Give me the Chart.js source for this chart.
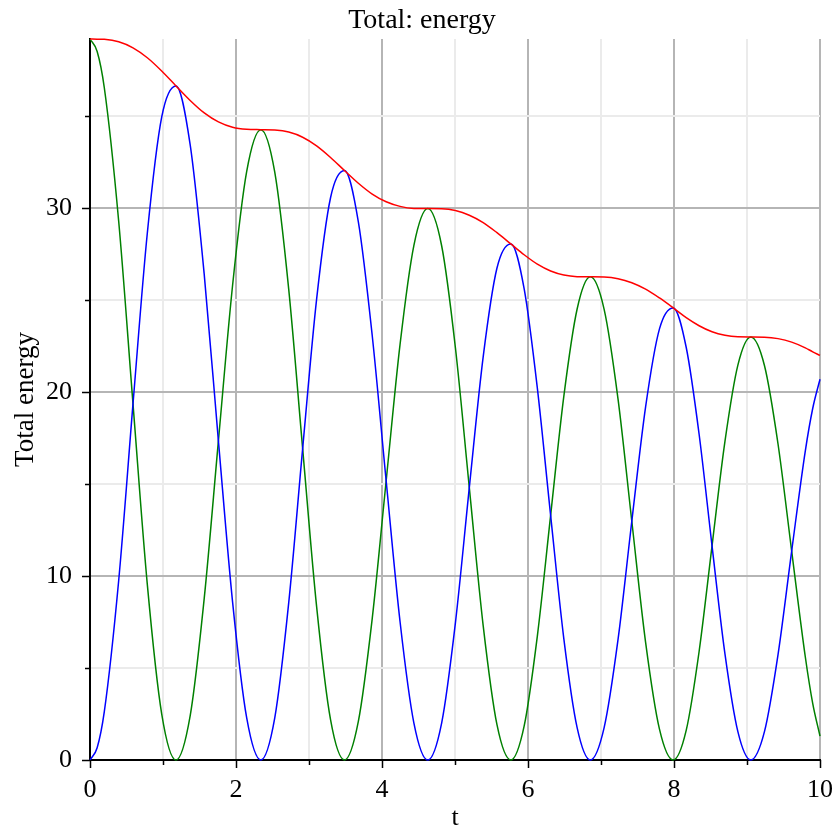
<!DOCTYPE html>
<html>
<head>
<meta charset="utf-8">
<title>Total: energy</title>
<script src="https://cdn.jsdelivr.net/npm/chart.js@4.4.1/dist/chart.umd.min.js"></script>
<style>
  html, body { margin: 0; padding: 0; background: #fff; }
  canvas { display: block; }
</style>
</head>
<body>
<canvas id="energyChart" width="837" height="831"></canvas>
<script>
// values (t, kinetic, potential, total)
var tValues = [0, 0.098, 0.196, 0.393, 0.589, 0.785, 0.982, 1.178, 1.372, 1.565, 1.759, 1.953, 2.146, 2.34,
	2.531, 2.722, 2.913, 3.104, 3.295, 3.486, 3.676, 3.866, 4.057, 4.247, 4.437, 4.627,
	4.817, 5.006, 5.196, 5.386, 5.575, 5.765, 5.947, 6.128, 6.31, 6.491, 6.673, 6.854,
	7.043, 7.233, 7.422, 7.611, 7.801, 7.99, 8.167, 8.344, 8.521, 8.698, 8.875, 9.052,
	9.239, 9.425, 9.612, 9.799, 9.9, 10];
var kinetic = [0, 0.67, 2.63, 9.76, 19.36, 28.64, 34.95, 36.65, 33.46, 26.39, 17.35, 8.60, 2.30, 0,
	2.29, 8.54, 16.93, 25.04, 30.57, 32.05, 29.26, 23.08, 15.18, 7.53, 2.01, 0,
	2.01, 7.47, 14.81, 21.92, 26.75, 28.06, 25.63, 20.22, 13.30, 6.59, 1.76, 0,
	1.76, 6.54, 12.98, 19.20, 23.44, 24.58, 22.44, 17.71, 11.64, 5.77, 1.54, 0,
	1.54, 5.73, 11.36, 16.81, 19.11, 20.70];
var potential = [39.2, 38.52, 36.55, 29.29, 19.36, 9.55, 2.51, 0, 2.40, 8.80, 17.35, 25.80, 31.99, 34.27,
	31.96, 25.60, 16.93, 8.35, 2.19, 0, 2.10, 7.69, 15.18, 22.58, 27.98, 29.98,
	27.96, 22.40, 14.81, 7.31, 1.92, 0, 1.84, 6.74, 13.30, 19.78, 24.52, 26.27,
	24.50, 19.63, 12.98, 6.40, 1.68, 0, 1.61, 5.90, 11.64, 17.32, 21.47, 23.0,
	21.45, 17.18, 11.36, 5.60, 3.08, 1.30];
var total = [39.2, 39.19, 39.18, 39.05, 38.72, 38.18, 37.46, 36.65, 35.86, 35.18, 34.69, 34.40, 34.29, 34.27,
	34.25, 34.14, 33.86, 33.39, 32.76, 32.05, 31.36, 30.77, 30.35, 30.10, 29.99, 29.98,
	29.97, 29.87, 29.62, 29.22, 28.67, 28.06, 27.47, 26.96, 26.59, 26.37, 26.28, 26.27,
	26.26, 26.17, 25.95, 25.60, 25.12, 24.58, 24.05, 23.61, 23.28, 23.09, 23.01, 23.0,
	22.99, 22.91, 22.72, 22.41, 22.19, 22.0];

var xTicksMajor = [0, 2, 4, 6, 8, 10];
var yTicksMajor = [0, 10, 20, 30];

var majorGrid = '#b5b5b5';
var minorGrid = '#ebebeb';

function points(ys) {
	return tValues.map(function(t, i) {
		return { x : t, y : ys[i] };
	});
}

// Maple style ticks: long on labelled values, short in between
var tickMarks = {
	id : 'tickMarks',
	afterDraw : function(chart) {
		var ctx = chart.ctx;
		var xs = chart.scales.x, ys = chart.scales.y;
		ctx.save();
		ctx.strokeStyle = '#000';
		ctx.lineWidth = 1.5;
		ctx.beginPath();
		xs.ticks.forEach(function(t) {
			var px = Math.round(xs.getPixelForValue(t.value)) + 0.5;
			var len = xTicksMajor.indexOf(t.value) >= 0 ? 8 : 5;
			ctx.moveTo(px, chart.chartArea.bottom);
			ctx.lineTo(px, chart.chartArea.bottom + len);
		});
		ys.ticks.forEach(function(t) {
			var py = Math.round(ys.getPixelForValue(t.value)) + 0.5;
			var len = yTicksMajor.indexOf(t.value) >= 0 ? 8 : 5;
			ctx.moveTo(chart.chartArea.left, py);
			ctx.lineTo(chart.chartArea.left - len, py);
		});
		ctx.stroke();
		ctx.restore();
	}
};

Chart.defaults.font.family = "'Liberation Serif', 'Times New Roman', serif";
Chart.defaults.color = '#000';

var ctxE = document.getElementById('energyChart').getContext('2d');
var energyChart = new Chart(ctxE, {
	type : 'line',
	data : {
		datasets : [ {
			label : 'total',
			data : points(total),
			borderColor : '#ff0000'
		}, {
			label : 'kinetic',
			data : points(kinetic),
			borderColor : '#0000ff'
		}, {
			label : 'potential',
			data : points(potential),
			borderColor : '#008000'
		} ]
	},
	options : {
		responsive : false,
		animation : false,
		layout : {
			padding : { left : 7, right : 0, top : 0, bottom : 0 }
		},
		elements : {
			point : { radius : 0 },
			line : { borderWidth : 1.5, cubicInterpolationMode : 'monotone', fill : false }
		},
		datasets : {
			line : { clip : 3 }
		},
		plugins : {
			legend : { display : false },
			tooltip : { enabled : false },
			title : {
				display : true,
				text : 'Total: energy',
				font : { size : 28, weight : 'normal', lineHeight : 1 },
				padding : { top : 7, bottom : 4 }
			}
		},
		scales : {
			x : {
				type : 'linear',
				min : 0,
				max : 10,
				afterFit : function(scale) {
					scale.height = 71;
					scale.paddingLeft = 0;
					scale.paddingRight = 17;
				},
				border : { color : '#000', width : 2 },
				grid : {
					drawTicks : false,
					lineWidth : 2,
					color : function(c) {
						if (!c.tick) return minorGrid;
						return xTicksMajor.indexOf(c.tick.value) >= 0 ? majorGrid : minorGrid;
					}
				},
				ticks : {
					stepSize : 1,
					autoSkip : false,
					maxRotation : 0,
					padding : 15,
					font : { size : 26 },
					callback : function(v) {
						return xTicksMajor.indexOf(v) >= 0 ? v : '';
					}
				},
				title : {
					display : true,
					text : 't',
					font : { size : 26, lineHeight : 1 },
					padding : { top : 0, bottom : 0 }
				}
			},
			y : {
				type : 'linear',
				min : 0,
				max : 39.2,
				afterBuildTicks : function(scale) {
					scale.ticks = scale.ticks.filter(function(t) {
						return t.value % 5 === 0;
					});
				},
				afterFit : function(scale) {
					scale.width = 83;
				},
				border : { color : '#000', width : 2 },
				grid : {
					drawTicks : false,
					lineWidth : 2,
					color : function(c) {
						if (!c.tick) return minorGrid;
						return yTicksMajor.indexOf(c.tick.value) >= 0 ? majorGrid : minorGrid;
					}
				},
				ticks : {
					stepSize : 5,
					padding : 18,
					font : { size : 26 },
					callback : function(v) {
						return yTicksMajor.indexOf(v) >= 0 ? v : '';
					}
				},
				title : {
					display : true,
					text : 'Total energy',
					font : { size : 27, lineHeight : 1 },
					padding : { top : 5, bottom : 0 }
				}
			}
		}
	},
	plugins : [ tickMarks ]
});
</script>
</body>
</html>
